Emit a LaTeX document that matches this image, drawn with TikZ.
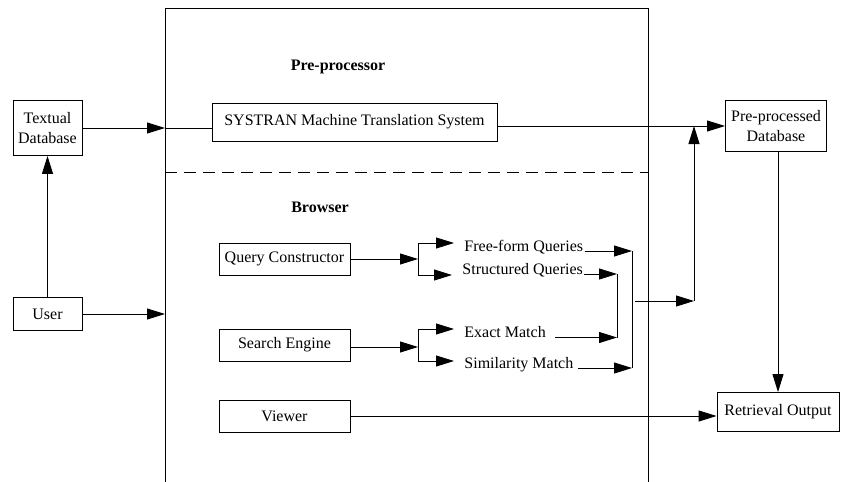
\documentclass[tikz,border=0pt]{standalone}
\usepackage{fontspec}
\setmainfont{Liberation Serif}
\usetikzlibrary{arrows.meta,positioning}

\begin{document}
\begin{tikzpicture}[x=1pt,y=-1pt,line width=0.9pt,
    font=\fontsize{16}{20}\selectfont,
    box/.style={draw,inner sep=0pt,align=center,minimum height=32pt},
    lbl/.style={anchor=base west,inner sep=0pt},
    head/.style={font=\fontsize{16}{20}\selectfont\bfseries},
    arr/.style={-{Triangle[length=18pt,width=11pt]}}]
  \useasboundingbox (0,0) rectangle (841,482);
  % frame of the two parts
  \coordinate (fl) at (165,482);
  \coordinate (fr) at (648,482);
  \draw (fl) -- (165,8) -- (648,8) -- (fr);
  \draw[dashed,dash pattern=on 12pt off 7pt] (165,172) -- (648,172);
  \node[head] (pre) at (338,67) {Pre-processor};
  \node[head] (brw) at (320,207) {Browser};
  % outside boxes
  \node[box,minimum width=69pt,minimum height=55pt] (tdb) at (47.5,128) {Textual\\Database};
  \node[box,minimum width=69pt,minimum height=33pt] (user) at (47.5,314) {User};
  \node[box,minimum width=101pt,minimum height=51pt] (pdb) at (776,126) {Pre-processed\\Database};
  \node[box,minimum width=122pt,minimum height=39pt] (ret) at (778,412) {Retrieval Output};
  % inside boxes
  \node[box,minimum width=285pt,minimum height=38pt] (sys) at (354.5,122) {SYSTRAN Machine Translation System};
  \node[box,minimum width=131pt] (qc) at (284.5,259) {Query Constructor};
  \node[box,minimum width=131pt] (se) at (284.5,345) {Search Engine};
  \node[box,minimum width=131pt] (vw) at (284.5,416) {Viewer};
  \node[lbl] (ff) at (464,251) {Free-form Queries};
  \node[lbl] (sq) at (462,274) {Structured Queries};
  \node[lbl] (em) at (464,337.5) {Exact Match};
  \node[lbl] (sm) at (464,368) {Similarity Match};
  % joints
  \coordinate (jq) at (418,259);
  \coordinate (jqt) at (418,243);
  \coordinate (jqb) at (418,275);
  \coordinate (js) at (418,347);
  \coordinate (jst) at (418,329);
  \coordinate (jsb) at (418,361);
  \coordinate (inner) at (617,301);
  \coordinate (outer) at (632,301);
  \coordinate (up) at (694,301);
  % connectors
  \draw[arr] (tdb.east) -- (tdb.east -| fl);
  \draw (tdb.east -| fl) -- (tdb.east -| sys.west);
  \draw[arr] (user.north) -- (tdb.south);
  \draw[arr] (user.east) -- (user.east -| fl);
  \draw[arr] (sys.east |- pdb.west) -- (pdb.west);
  \draw[arr] (ret.north |- pdb.south) -- (ret.north);
  \draw[arr] (vw.east) -- (vw.east -| ret.west);
  \draw[arr] (qc.east) -- (jq);
  \draw (jqt) -- (jqb);
  \draw[arr,shorten >=10pt] (jqt) -- (jqt -| ff.west);
  \draw[arr,shorten >=10pt] (jqb) -- (jqb -| sq.west);
  \draw[arr] (se.east |- js) -- (js);
  \draw (jst) -- (jsb);
  \draw[arr,shorten >=10pt] (jst) -- (jst -| em.west);
  \draw[arr,shorten >=10pt] (jsb) -- (jsb -| sm.west);
  \draw[arr] ([xshift=1pt]ff.base east) -- (ff.base -| outer);
  \draw[arr] ([xshift=1pt]sq.base east) -- (sq.base -| inner);
  \draw[arr] ([xshift=9pt]em.base east) -- (em.base -| inner);
  \draw[arr] ([xshift=4pt]sm.base east) -- (sm.base -| outer);
  \draw (ff.base -| outer) -- (sm.base -| outer);
  \draw (sq.base -| inner) -- (em.base -| inner);
  \draw[arr] ([xshift=3pt]outer) -- (up);
  \draw[arr] (up) -- (up |- pdb.west);
\end{tikzpicture}
\end{document}
